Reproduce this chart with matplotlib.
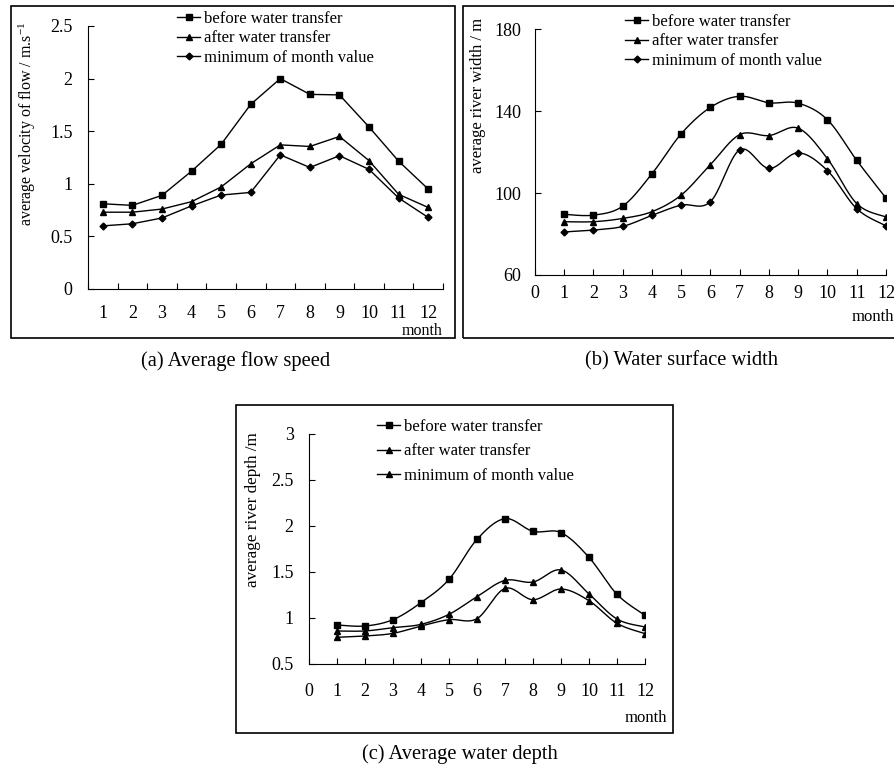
import numpy as np
import matplotlib
matplotlib.use('Agg')
import matplotlib.pyplot as plt
from matplotlib.patches import Rectangle

plt.rcParams['font.family'] = 'Liberation Serif'
plt.rcParams['mathtext.fontset'] = 'stix'

months = np.arange(1, 13)

# (a) average flow speed, m/s
speed_before = [0.81, 0.795, 0.89, 1.12, 1.375, 1.755, 2.0, 1.85, 1.845, 1.54, 1.215, 0.95]
speed_after = [0.73, 0.73, 0.76, 0.83, 0.97, 1.19, 1.37, 1.355, 1.45, 1.22, 0.90, 0.775]
speed_min = [0.60, 0.62, 0.675, 0.79, 0.893, 0.918, 1.275, 1.155, 1.267, 1.137, 0.865, 0.68]

# (b) water surface width, m
width_before = [89.6, 89.2, 93.6, 109.4, 128.9, 141.8, 147.2, 144.0, 143.8, 135.7, 115.9, 97.5]
width_after = [86.0, 86.0, 87.6, 90.9, 99.0, 113.9, 128.5, 128.0, 131.6, 116.7, 94.8, 88.3]
width_min = [81.0, 81.9, 83.7, 89.1, 94.1, 95.8, 121.1, 112.0, 119.6, 110.9, 92.3, 84.0]

# (c) average water depth, m
depth_before = [0.924, 0.913, 0.982, 1.167, 1.42, 1.855, 2.08, 1.942, 1.928, 1.659, 1.257, 1.029]
depth_after = [0.859, 0.859, 0.895, 0.931, 1.04, 1.232, 1.409, 1.391, 1.522, 1.261, 0.989, 0.902]
depth_min = [0.79, 0.804, 0.833, 0.913, 0.982, 0.993, 1.322, 1.199, 1.315, 1.188, 0.942, 0.83]

labels = ['before water transfer', 'after water transfer', 'minimum of month value']

W, H = 895, 766
fig = plt.figure(figsize=(W / 100, H / 100), dpi=100)


def px_axes(x0, y0, x1, y1):
    return fig.add_axes([x0 / W, 1 - y1 / H, (x1 - x0) / W, (y1 - y0) / H])


def box(x0, y0, x1, y1):
    fig.patches.append(Rectangle((x0 / W, 1 - y1 / H), (x1 - x0) / W, (y1 - y0) / H,
                                 transform=fig.transFigure, fill=False, lw=1.2, ec='black'))


def smooth(x, y, n=20):
    # Catmull-Rom curve through the points, like Excel's smoothed line
    x = np.asarray(x, float)
    y = np.asarray(y, float)
    px = np.concatenate([[x[0]], x, [x[-1]]])
    py = np.concatenate([[y[0]], y, [y[-1]]])
    xs, ys = [], []
    t = np.linspace(0, 1, n)
    for i in range(1, len(px) - 2):
        for p, out in ((px, xs), (py, ys)):
            p0, p1, p2, p3 = p[i - 1], p[i], p[i + 1], p[i + 2]
            out.extend(0.5 * (2 * p1 + (-p0 + p2) * t + (2 * p0 - 5 * p1 + 4 * p2 - p3) * t ** 2
                              + (-p0 + 3 * p1 - 3 * p2 + p3) * t ** 3))
    return xs, ys


def style(ax, pad_y):
    ax.spines['top'].set_visible(False)
    ax.spines['right'].set_visible(False)
    ax.tick_params(axis='y', direction='in', length=4, pad=pad_y, labelsize=13)


def legend(ax, x, y, spacing, markers):
    handles = [plt.Line2D([], [], color='black', lw=1, marker=m, ms=ms) for m, ms in markers]
    ax.legend(handles, labels, loc='upper left', bbox_to_anchor=(x / W, 1 - y / H),
              bbox_transform=fig.transFigure, frameon=False, fontsize=12,
              handlelength=1.4, handletextpad=0.25, labelspacing=spacing, borderpad=0,
              borderaxespad=0)


# ---------- (a) ----------
box(11, 6, 455, 338)
ax = px_axes(88, 26, 443, 289)
ax.plot(months, speed_before, '-s', color='black', lw=1, ms=5)
ax.plot(months, speed_after, '-^', color='black', lw=1, ms=5)
ax.plot(months, speed_min, '-D', color='black', lw=1, ms=3.5)
ax.set_xlim(0.5, 12.5)
ax.set_ylim(0, 2.5)
ax.set_yticks([0, 0.5, 1, 1.5, 2, 2.5])
ax.set_yticklabels(['0', '0.5', '1', '1.5', '2', '2.5'])
ax.set_xticks(np.arange(0.5, 13, 1))
ax.set_xticklabels([])
ax.set_xticks(months, minor=True)
ax.set_xticklabels([str(m) for m in months], minor=True)
ax.tick_params(axis='x', which='major', direction='in', length=4)
ax.tick_params(axis='x', which='minor', length=0, pad=11.5, labelsize=13)
style(ax, 11)
ax.set_ylabel('average velocity of flow / m.s$^{\\mathregular{-1}}$', fontsize=11.5)
ax.yaxis.set_label_coords(-50 / 355, 0.63)
legend(ax, 177, 11, 0.2, [('s', 5), ('^', 5), ('D', 3.5)])
fig.text(443 / W, 1 - 331 / H, 'month', ha='right', va='center', fontsize=11.5)
fig.text(236 / W, 1 - 361 / H, '(a) Average flow speed', ha='center', va='center', fontsize=14.8)

# ---------- (b) ----------
box(463, 6, 900, 338)
ax = px_axes(535, 29, 886, 275)
for vals, m, ms in ((width_before, 's', 5), (width_after, '^', 5), (width_min, 'D', 3.5)):
    sx, sy = smooth(months, vals)
    ax.plot(sx, sy, color='black', lw=1)
    ax.plot(months, vals, m, color='black', ms=ms)
ax.set_xlim(0, 12)
ax.set_ylim(60, 180)
ax.set_yticks([60, 100, 140, 180])
ax.set_xticks(np.arange(0, 13))
ax.tick_params(axis='x', direction='in', length=4, pad=7, labelsize=13)
style(ax, 10)
ax.set_ylabel('average river width / m', fontsize=12)
ax.yaxis.set_label_coords(-49 / 351, 0.73)
legend(ax, 625, 14, 0.2, [('s', 5), ('^', 5), ('D', 3.5)])
fig.text(894 / W, 1 - 317 / H, 'month', ha='right', va='center', fontsize=12)
fig.text(682 / W, 1 - 361 / H, '(b) Water surface width', ha='center', va='center', fontsize=14.8)

# ---------- (c) ----------
box(236, 405, 673, 733)
ax = px_axes(309, 434, 645, 664)
for vals, m, ms in ((depth_before, 's', 5), (depth_after, '^', 5), (depth_min, '^', 5)):
    sx, sy = smooth(months, vals)
    ax.plot(sx, sy, color='black', lw=1)
    ax.plot(months, vals, m, color='black', ms=ms)
ax.set_xlim(0, 12)
ax.set_ylim(0.5, 3)
ax.set_yticks([0.5, 1, 1.5, 2, 2.5, 3])
ax.set_yticklabels(['0.5', '1', '1.5', '2', '2.5', '3'])
ax.set_xticks(np.arange(0, 13))
ax.tick_params(axis='x', direction='in', length=4, pad=14, labelsize=13)
style(ax, 11)
ax.set_ylabel('average river depth /m', fontsize=12.3)
ax.yaxis.set_label_coords(-48 / 336, 0.67)
legend(ax, 377, 419, 0.5, [('s', 5), ('^', 5), ('^', 5)])
fig.text(667 / W, 1 - 718 / H, 'month', ha='right', va='center', fontsize=12)
fig.text(460 / W, 1 - 754 / H, '(c) Average water depth', ha='center', va='center', fontsize=14.8)

fig.savefig('out.png', dpi=100)
